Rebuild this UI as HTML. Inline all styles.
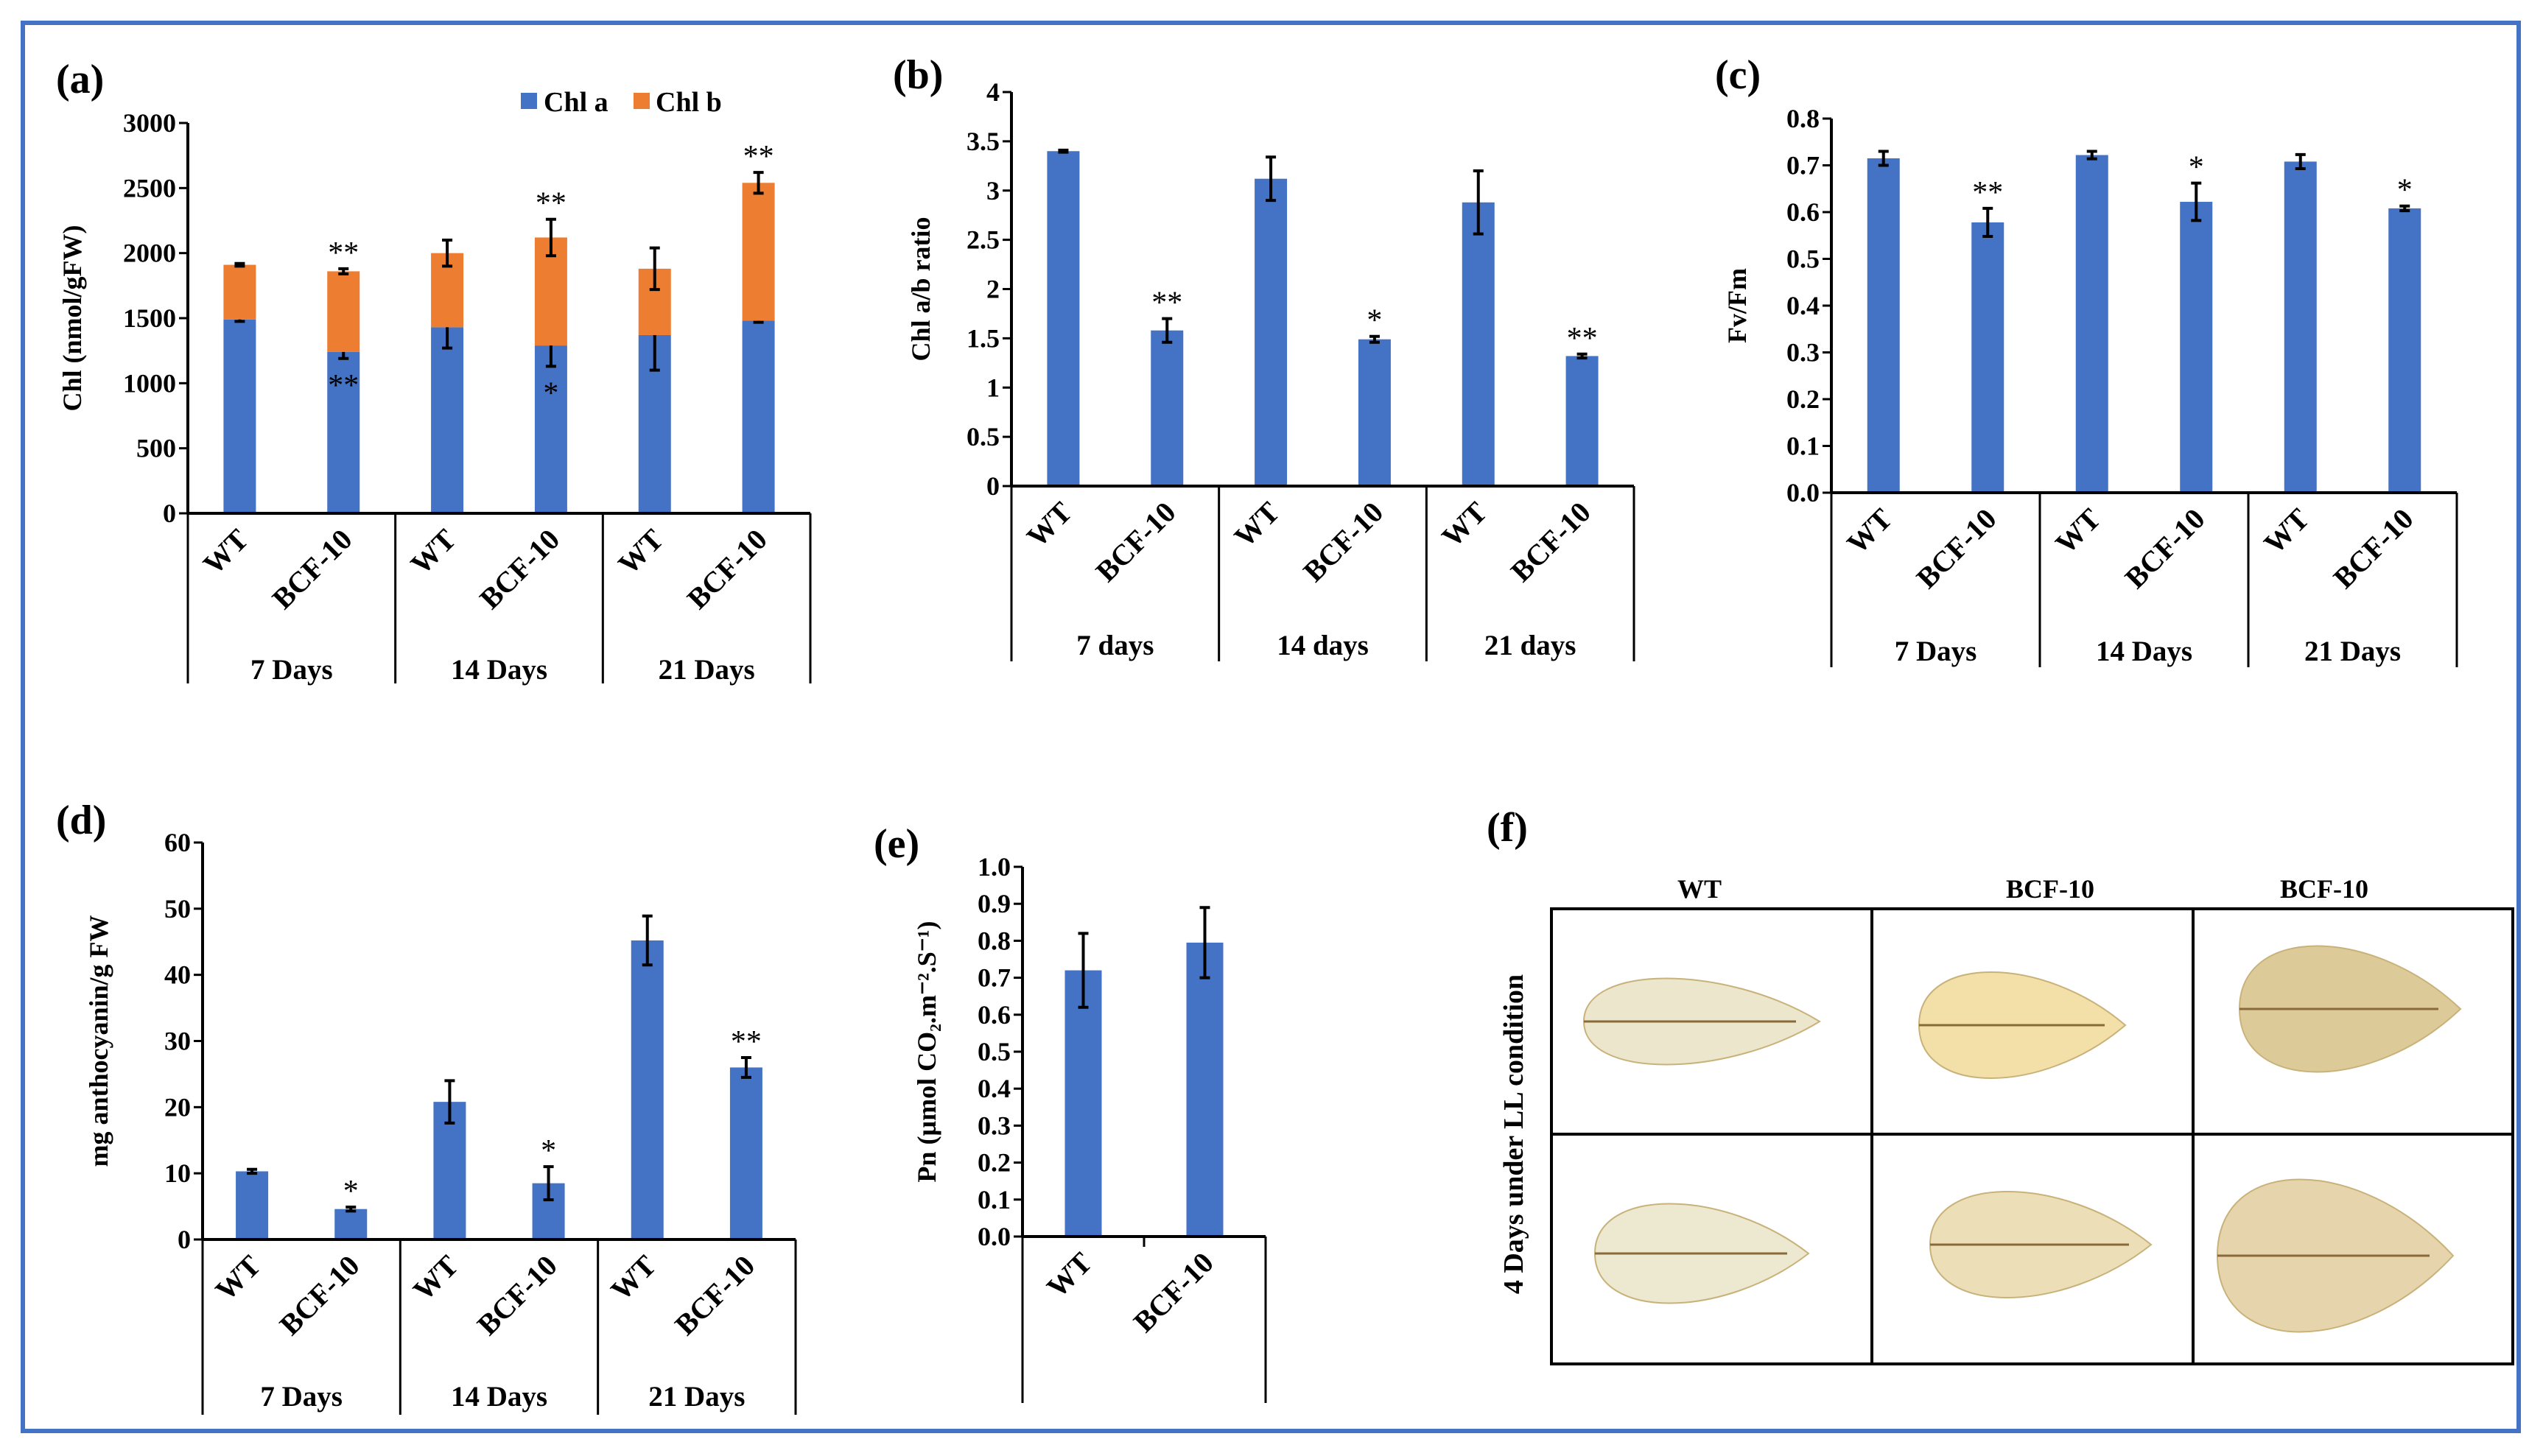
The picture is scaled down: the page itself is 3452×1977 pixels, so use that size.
<!DOCTYPE html>
<html><head><meta charset="utf-8">
<style>
html,body{margin:0;padding:0;background:#fff;}
svg{display:block;font-family:"Liberation Serif",serif;font-weight:bold;}
</style></head>
<body>
<svg id="fig" width="3452" height="1977" viewBox="0 0 3452 1977" xmlns="http://www.w3.org/2000/svg">
<rect x="31" y="31" width="3388" height="1912" fill="none" stroke="#4472C4" stroke-width="6"/>
<g id="charts"></g>
<g id="panelF"></g>
</svg>
<script>
// ---- data ----
const groupLabels = ["7  Days","14 Days","21 Days"];
const groupLabelsB = ["7 days","14 days","21 days"];
const categories = ["WT","BCF-10","WT","BCF-10","WT","BCF-10"];
const chlA = [1490,1240,1430,1290,1370,1480];
const chlAErr = [15,50,160,160,270,12];
const chlTotal = [1910,1860,2000,2120,1880,2540];
const chlTotalErr = [10,20,100,140,160,80];
const chlStarsTop = ["","**","","**","","**"];
const chlStarsA = ["","**","","*","",""];
const ratioVals = [3.40,1.58,3.12,1.49,2.88,1.32];
const ratioErr = [0.01,0.12,0.22,0.03,0.32,0.02];
const ratioStars = ["","**","","*","","**"];
const fvVals = [0.715,0.578,0.722,0.622,0.708,0.608];
const fvErr = [0.015,0.03,0.008,0.04,0.015,0.005];
const fvStars = ["","**","","*","","*"];
const anthoVals = [10.3,4.6,20.8,8.5,45.2,26.0];
const anthoErr = [0.3,0.3,3.2,2.5,3.7,1.5];
const anthoStars = ["","*","","*","","**"];
const pnCats = ["WT","BCF-10"];
const pnVals = [0.72,0.795];
const pnErr = [0.1,0.095];
const ticksA = [0,500,1000,1500,2000,2500,3000];
const ticksB = [0,0.5,1,1.5,2,2.5,3,3.5,4];
const ticksC = [0,0.1,0.2,0.3,0.4,0.5,0.6,0.7,0.8];
const ticksD = [0,10,20,30,40,50,60];
const ticksE = [0,0.1,0.2,0.3,0.4,0.5,0.6,0.7,0.8,0.9,1.0];

const NS="http://www.w3.org/2000/svg";
const BLUE="#4472C4", ORANGE="#ED7D31";
function mk(tag,attrs,parent,txt){const e=document.createElementNS(NS,tag);for(const k in attrs)e.setAttribute(k,attrs[k]);if(txt!==undefined)e.textContent=txt;parent.appendChild(e);return e;}
const root=document.getElementById('charts');

function chart(o){
  const g=mk('g',{},root);
  
  
  const n=o.cats.length, step=(o.x1-o.x0)/n;
  const ys=v=>o.yBot-(v-o.yMin)/(o.yMax-o.yMin)*(o.yBot-o.yTop);
  const xs=i=>o.x0+(i+0.5)*step;
  const ya=mk('line',{x1:o.x0,y1:o.yTop,x2:o.x0,y2:o.yBot,stroke:'#000','stroke-width':4},g);
  
  
  o.ticks.forEach(t=>{
    mk('line',{x1:o.x0-12,y1:ys(t),x2:o.x0,y2:ys(t),stroke:'#000','stroke-width':3},g);
    const tl=mk('text',{x:o.x0-16,y:ys(t)+12,'text-anchor':'end','font-size':36},g,o.fmt(t));
    
    
  });
  o.series.forEach(s=>{
    for(let i=0;i<n;i++){
      const lo=s.base?s.base[i]:o.yMin, hi=s.vals[i];
      const r=mk('rect',{x:xs(i)-o.bw/2,y:ys(hi),width:o.bw,height:ys(lo)-ys(hi),fill:s.color},g);
      
      
      if(s.err){
        const e=s.err[i], cx=xs(i);
        const eb=mk('path',{d:`M${cx},${ys(hi+e)}V${ys(hi-e)}M${cx-7},${ys(hi+e)}H${cx+7}M${cx-7},${ys(hi-e)}H${cx+7}`,stroke:'#000','stroke-width':4,fill:'none'},g);
        
        
        if(s.stars&&s.stars[i]){
          const st=mk('text',{x:cx,y:ys(hi+e)-8,'text-anchor':'middle','font-size':42,'font-weight':'normal'},g,s.stars[i]);
          
          
        }
        if(s.starsBelow&&s.starsBelow[i]){
          const st=mk('text',{x:cx,y:ys(hi-e)+50,'text-anchor':'middle','font-size':42,'font-weight':'normal'},g,s.starsBelow[i]);
          
          
        }
      }
    }
  });
  const xa=mk('line',{x1:o.x0,y1:o.yBot,x2:o.x1,y2:o.yBot,stroke:'#000','stroke-width':4},g);
  
  
  const per=o.groups?n/o.groups.length:n;
  const divs=[0];
  if(o.groups){for(let k=1;k<=o.groups.length;k++)divs.push(k*per);} else divs.push(n);
  divs.forEach(k=>mk('line',{x1:o.x0+k*step,y1:o.yBot,x2:o.x0+k*step,y2:o.divBot,stroke:'#000','stroke-width':3},g));
  if(!o.groups){mk('line',{x1:o.x0+step,y1:o.yBot,x2:o.x0+step,y2:o.yBot+14,stroke:'#000','stroke-width':3},g);}
  o.cats.forEach((c,i)=>{
    const tx=xs(i)+14, ty=o.yBot+38;
    const t=mk('text',{x:tx,y:ty,'text-anchor':'end','font-size':40,transform:`rotate(-45 ${tx} ${ty})`},g,c);
    
    
  });
  if(o.groups){o.groups.forEach((gl,k)=>{
    const t=mk('text',{x:o.x0+(k+0.5)*per*step,y:o.groupY,'text-anchor':'middle','font-size':39},g,gl);
    
    
  });}
  const yt=mk('text',{x:o.ytX,y:(o.yTop+o.yBot)/2,'text-anchor':'middle','font-size':36,transform:`rotate(-90 ${o.ytX} ${(o.yTop+o.yBot)/2})`},g,o.ytitle);
  
  
  const pl=mk('text',{x:o.lx,y:o.ly,'font-size':56},g,o.letter);
  
  
  return g;
}
const f0=v=>String(v), f1=v=>v.toFixed(1);
chart({name:'panel-a-chlorophyll-chart',cats:categories,groups:groupLabels,x0:255,x1:1100,yTop:167,yBot:697,yMin:0,yMax:3000,ticks:ticksA,fmt:f0,bw:44,divBot:928,groupY:922,ytX:110,ytitle:'Chl (nmol/gFW)',letter:'(a)',lx:76,ly:126,
 series:[{key:'chl-a',vals:chlA,color:BLUE,err:chlAErr,starsBelow:chlStarsA},{key:'chl-b',vals:chlTotal,base:chlA,color:ORANGE,err:chlTotalErr,stars:chlStarsTop}]});
chart({name:'panel-b-chl-ratio-chart',cats:categories,groups:groupLabelsB,x0:1373,x1:2218,yTop:125,yBot:660,yMin:0,yMax:4,ticks:ticksB,fmt:f0,bw:44,divBot:898,groupY:889,ytX:1262,ytitle:'Chl a/b ratio',letter:'(b)',lx:1212,ly:120,
 series:[{key:'ratio',vals:ratioVals,color:BLUE,err:ratioErr,stars:ratioStars}]});
chart({name:'panel-c-fvfm-chart',cats:categories,groups:groupLabels,x0:2486,x1:3335,yTop:161,yBot:669,yMin:0,yMax:0.8,ticks:ticksC,fmt:f1,bw:44,divBot:906,groupY:897,ytX:2370,ytitle:'Fv/Fm',letter:'(c)',lx:2328,ly:120,
 series:[{key:'fvfm',vals:fvVals,color:BLUE,err:fvErr,stars:fvStars}]});
chart({name:'panel-d-anthocyanin-chart',cats:categories,groups:groupLabels,x0:275,x1:1080,yTop:1144,yBot:1683,yMin:0,yMax:60,ticks:ticksD,fmt:f0,bw:44,divBot:1921,groupY:1909,ytX:146,ytitle:'mg anthocyanin/g FW',letter:'(d)',lx:76,ly:1132,
 series:[{key:'anthocyanin',vals:anthoVals,color:BLUE,err:anthoErr,stars:anthoStars}]});
chart({name:'panel-e-photosynthesis-chart',cats:pnCats,groups:null,x0:1388,x1:1718,yTop:1177,yBot:1679,yMin:0,yMax:1.0,ticks:ticksE,fmt:f1,bw:50,divBot:1905,groupY:0,ytX:1270,ytitle:'Pn (µmol CO₂.m⁻².S⁻¹)',letter:'(e)',lx:1186,ly:1164,
 series:[{key:'pn',vals:pnVals,color:BLUE,err:pnErr}]});

const lg=mk('g',{},root);


mk('rect',{x:707,y:126,width:22,height:22,fill:BLUE},lg);
mk('text',{x:738,y:151,'font-size':38},lg,'Chl a');
mk('rect',{x:860,y:126,width:22,height:22,fill:ORANGE},lg);
mk('text',{x:890,y:151,'font-size':38},lg,'Chl b');

const pf=document.getElementById('panelF');
const fl=mk('text',{x:2018,y:1142,'font-size':56},pf,'(f)');


const heads=[["WT",2307],["BCF-10",2783],["BCF-10",3155]];
heads.forEach(h=>{const t=mk('text',{x:h[1],y:1219,'text-anchor':'middle','font-size':36},pf,h[0]);
 
 });
const grid=mk('path',{d:'M2106,1234H3411V1852H2106ZM2541,1234V1852M2977,1234V1852M2106,1540H3411',fill:'none',stroke:'#000','stroke-width':4},pf);


const rl=mk('text',{x:2067,y:1540,'text-anchor':'middle','font-size':38,transform:'rotate(-90 2067 1540)'},pf,'4 Days under LL condition');


const leaves=[[2310,1387,320,130,'#ebe6cc'],[2745,1392,280,160,'#f2e0a8'],[3190,1370,300,190,'#dccb98'],[2310,1702,290,150,'#ece9d0'],[2770,1690,300,160,'#ecdfb8'],[3170,1705,320,230,'#e6d4ac']];
leaves.forEach((l,i)=>{
 const [cx,cy,w,h,c]=l;
 const p=mk('path',{d:`M${cx-w/2},${cy} C${cx-w/2},${cy-h*0.6} ${cx+w*0.1},${cy-h*0.6} ${cx+w/2},${cy} C${cx+w*0.1},${cy+h*0.6} ${cx-w/2},${cy+h*0.6} ${cx-w/2},${cy}Z`,fill:c,stroke:'#c9b27a','stroke-width':2},pf);
 
 
 mk('line',{x1:cx-w/2,y1:cy,x2:cx+w*0.4,y2:cy,stroke:'#8a6a3a','stroke-width':3},pf);
});
</script>
</body></html>
